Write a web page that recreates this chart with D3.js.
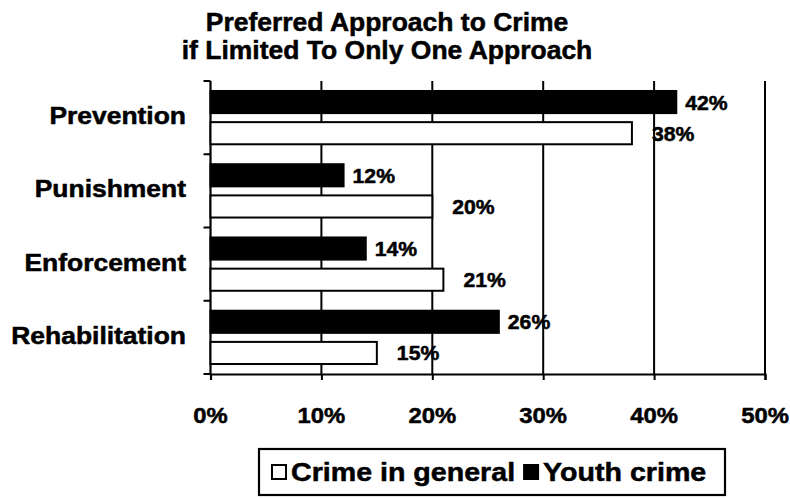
<!DOCTYPE html>
<html>
<head>
<meta charset="utf-8">
<script src="https://cdn.jsdelivr.net/npm/d3@7"></script>
<style>
  html, body { margin: 0; padding: 0; background: #fff; }
  svg { display: block; }
  text {
    font-family: "Liberation Sans", Arial, Helvetica, sans-serif; font-weight: bold;
    fill: #000; stroke: #000; stroke-width: 0.5px; stroke-linejoin: round;
  }
</style>
</head>
<body>
<svg id="chart" width="790" height="498"></svg>
<script>
// Survey results: preferred approach to crime
const titleLines = ["Preferred Approach to Crime", "if Limited To Only One Approach"];
const categories = ["Prevention", "Punishment", "Enforcement", "Rehabilitation"];
const seriesNames = ["Youth crime", "Crime in general"];
const youthCrime = [42, 12, 14, 26];
const crimeInGeneral = [38, 20, 21, 15];
const xTicks = [0, 10, 20, 30, 40, 50];
const legendOrder = ["Crime in general", "Youth crime"];

const seriesValues = { "Youth crime": youthCrime, "Crime in general": crimeInGeneral };
const seriesFill = { "Youth crime": "#000", "Crime in general": "#fff" };

const svg = d3.select("#chart");
const plot = { left: 210.5, right: 765, top: 81, bottom: 374 };

const x = d3.scaleLinear().domain([0, 50]).range([plot.left, plot.right]);
const y = d3.scaleBand().domain(categories).range([plot.top, plot.bottom]).padding(0);
const ySub = d3.scaleBand().domain(seriesNames).range([0, y.bandwidth()])
  .paddingInner(0.29).paddingOuter(0.32);

// Text helper: horizontally widened bold type
function label(g, str, px, py, size, anchor, k) {
  return g.append("text")
    .attr("transform", `translate(${px},${py}) scale(${k},1)`)
    .attr("text-anchor", anchor)
    .style("font-size", size + "px")
    .text(str);
}

// Title
titleLines.forEach((t, i) => label(svg, t, 387, 31 + i * 28, 25, "middle", 1.06));

// Vertical gridlines
svg.append("g").selectAll("line")
  .data(xTicks.filter(d => d > 0))
  .join("line")
  .attr("x1", d => x(d)).attr("x2", d => x(d))
  .attr("y1", plot.top).attr("y2", plot.bottom)
  .attr("stroke", "#000").attr("stroke-width", 2);

// Bottom axis
const xAxis = svg.append("g").attr("transform", `translate(0,${plot.bottom})`)
  .call(d3.axisBottom(x).tickValues(xTicks).tickSize(6).tickFormat(""));
xAxis.select(".domain").attr("stroke-width", 2.2);
xAxis.selectAll(".tick line").attr("stroke-width", 2);
xTicks.forEach(t => label(svg, t + "%", x(t), 423, 22.5, "middle", 1.06));

// Left axis with ticks on category boundaries
svg.append("line")
  .attr("x1", plot.left).attr("x2", plot.left)
  .attr("y1", plot.top).attr("y2", plot.bottom)
  .attr("stroke", "#000").attr("stroke-width", 2.2);
const boundaries = categories.map(c => y(c)).concat([plot.bottom]);
svg.append("g").selectAll("line")
  .data(boundaries)
  .join("line")
  .attr("x1", plot.left - 7).attr("x2", plot.left)
  .attr("y1", d => d).attr("y2", d => d)
  .attr("stroke", "#000").attr("stroke-width", 2);

// Category labels
categories.forEach(c => label(svg, c, 186, y(c) + y.bandwidth() / 2 + 6.5, 23, "end", 1.15));

// Bars
const bars = svg.append("g");
categories.forEach((c, i) => {
  seriesNames.forEach(s => {
    const v = seriesValues[s][i];
    const top = y(c) + ySub(s);
    bars.append("rect")
      .attr("x", x(0)).attr("y", top)
      .attr("width", x(v) - x(0)).attr("height", ySub.bandwidth())
      .attr("fill", seriesFill[s]).attr("stroke", "#000").attr("stroke-width", 2);
    const gap = s === "Youth crime" ? 9 : 20;
    label(svg, v + "%", x(v) + gap, top + ySub.bandwidth() / 2 + 7.5, 20, "start", 1.06);
  });
});

// Legend
const lg = svg.append("g");
const box = { x: 259, y: 449, w: 466, h: 46 };
lg.append("rect").attr("x", box.x).attr("y", box.y).attr("width", box.w).attr("height", box.h)
  .attr("fill", "#fff").attr("stroke", "#000").attr("stroke-width", 2.2);
let cx = box.x + 13;
const midY = box.y + box.h / 2;
legendOrder.forEach(s => {
  lg.append("rect").attr("x", cx).attr("y", midY - 7).attr("width", 14).attr("height", 14)
    .attr("fill", seriesFill[s]).attr("stroke", "#000").attr("stroke-width", 2);
  cx += 19;
  const t = label(lg, s, cx, midY + 9, 26, "start", 1.1);
  cx += t.node().getComputedTextLength() * 1.1 + 9;
});
</script>
</body>
</html>
